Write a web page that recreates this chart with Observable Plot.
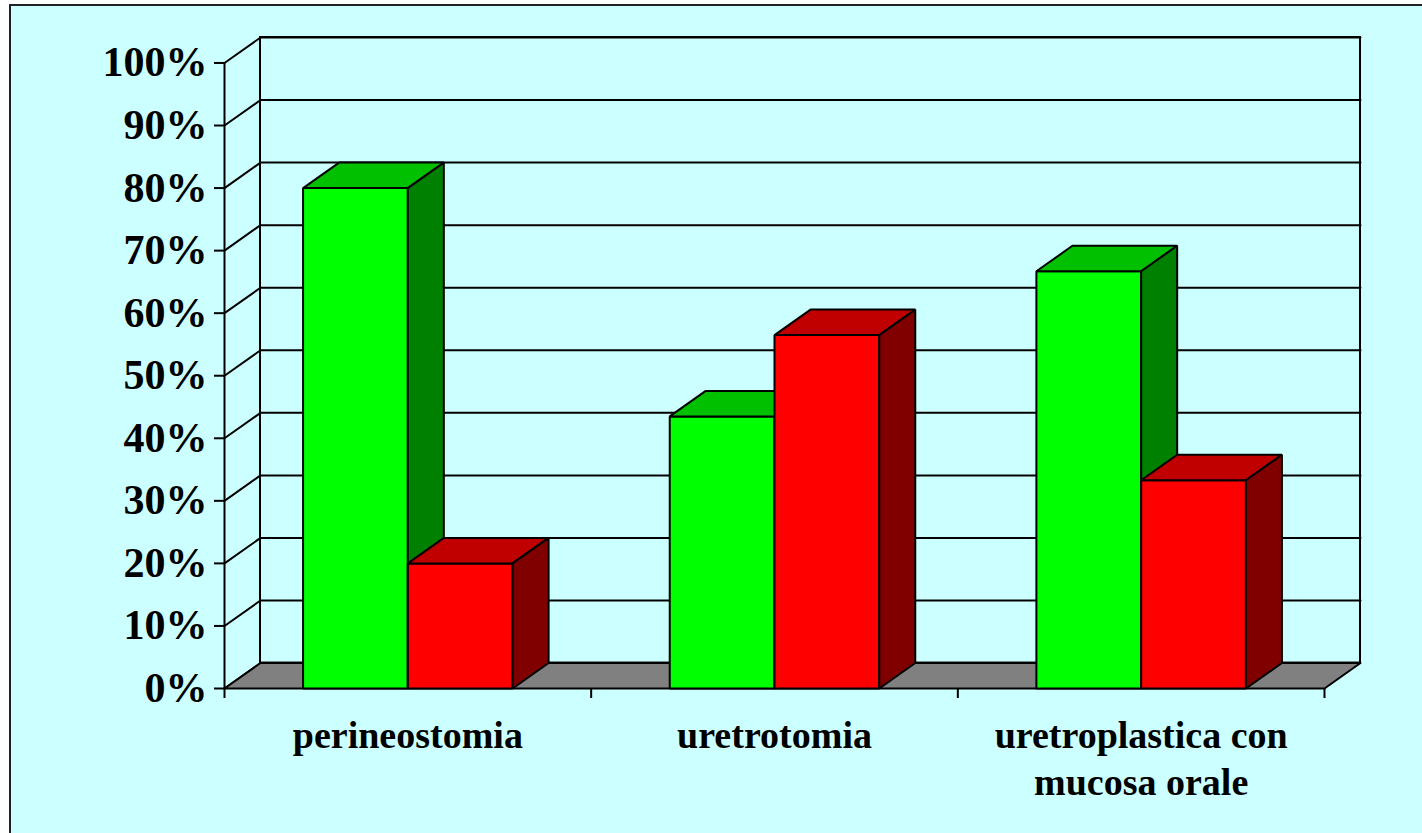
<!DOCTYPE html>
<html>
<head>
<meta charset="utf-8">
<script src="https://cdn.jsdelivr.net/npm/d3@7"></script>
<script src="https://cdn.jsdelivr.net/npm/@observablehq/plot@0.6"></script>
<style>
  html, body { margin: 0; padding: 0; background: #ffffff; overflow: hidden; width: 1422px; height: 833px; }
  #frame { position: absolute; left: 9px; top: 4px; width: 1440px; height: 860px; background: #CCFFFF; border-top: 2px solid #222; border-left: 2px solid #222; }
  #chart { position: absolute; left: 0; top: 0; }
</style>
</head>
<body>
<div id="frame"></div>
<div id="chart"></div>
<script>
// ---- data ----
const categories = ["perineostomia", "uretrotomia", "uretroplastica con\nmucosa orale"];
const greenValues = [80, 43.5, 66.7];
const redValues = [20, 56.5, 33.3];
const yTicks = [0, 10, 20, 30, 40, 50, 60, 70, 80, 90, 100];
const seriesColors = {
  green: {front: "#00FF00", top: "#00C000", side: "#008000"},
  red:   {front: "#FF0000", top: "#C00000", side: "#800000"}
};

// depth of the 3D box, in data units (x: category units, y: percent)
const DX = 0.0982;
const DY = 4.07;
const BAR = 1 / 3.5; // gap width 150%
const N = categories.length;

// polygons: floor then bars (left to right, green then red)
const polys = [];
function addPoly(id, fill, pts) {
  pts.forEach(([x, y]) => polys.push({id, fill, x, y}));
}
addPoly("floor", "#808080", [[0, 0], [N, 0], [N + DX, DY], [DX, DY]]);
categories.forEach((c, i) => {
  [["green", greenValues[i], i + 0.5 - BAR, i + 0.5],
   ["red", redValues[i], i + 0.5, i + 0.5 + BAR]].forEach(([s, v, x1, x2]) => {
    const col = seriesColors[s];
    addPoly(`${s}-${i}-front`, col.front, [[x1, 0], [x2, 0], [x2, v], [x1, v]]);
    addPoly(`${s}-${i}-top`, col.top, [[x1, v], [x2, v], [x2 + DX, v + DY], [x1 + DX, v + DY]]);
    addPoly(`${s}-${i}-side`, col.side, [[x2, 0], [x2 + DX, DY], [x2 + DX, v + DY], [x2, v]]);
  });
});

// gridlines: side wall diagonal + back wall horizontal
const grid = [];
yTicks.forEach(t => {
  grid.push({t, x: 0, y: t}, {t, x: DX, y: t + DY}, {t, x: N + DX, y: t + DY});
});

const chart = Plot.plot({
  width: 1422,
  height: 833,
  marginLeft: 224,
  marginRight: 62,
  marginTop: 37,
  marginBottom: 145,
  x: {domain: [0, N + DX]},
  y: {domain: [0, 100 + DY]},
  color: {type: "identity"},
  style: {background: "transparent", fontFamily: "'Liberation Serif', 'Times New Roman', serif", color: "#000"},
  marks: [
    Plot.rect([0], {x1: DX, x2: N + DX, y1: DY, y2: 100 + DY, fill: "none", stroke: "#000", strokeWidth: 2}),
    Plot.line(grid, {x: "x", y: "y", z: "t", stroke: "#000", strokeWidth: 2, strokeLinejoin: "miter"}),
    Plot.line(polys, {x: "x", y: "y", z: "id", fill: "fill", stroke: "#000", strokeWidth: 2, curve: "linear-closed", strokeLinejoin: "miter"}),
    Plot.ruleX([0], {y1: 0, y2: 100, stroke: "#000", strokeWidth: 2}),
    Plot.axisY(yTicks, {anchor: "left", tickSize: 10, tickPadding: 7, strokeWidth: 2, tickFormat: d => d + "%", fontSize: 42, fontWeight: "bold", label: null}),
    Plot.axisX(d3.range(N + 1), {anchor: "bottom", tickSize: 10, strokeWidth: 2, tickFormat: () => "", label: null}),
    Plot.text(categories, {x: (d, i) => i + 0.5, y: 0, text: d => d, dy: 26, lineAnchor: "top", fontSize: 38, fontWeight: "bold", lineHeight: 1.24, textAnchor: "middle", fill: "#000"})
  ]
});
document.getElementById("chart").appendChild(chart);
</script>
</body>
</html>
